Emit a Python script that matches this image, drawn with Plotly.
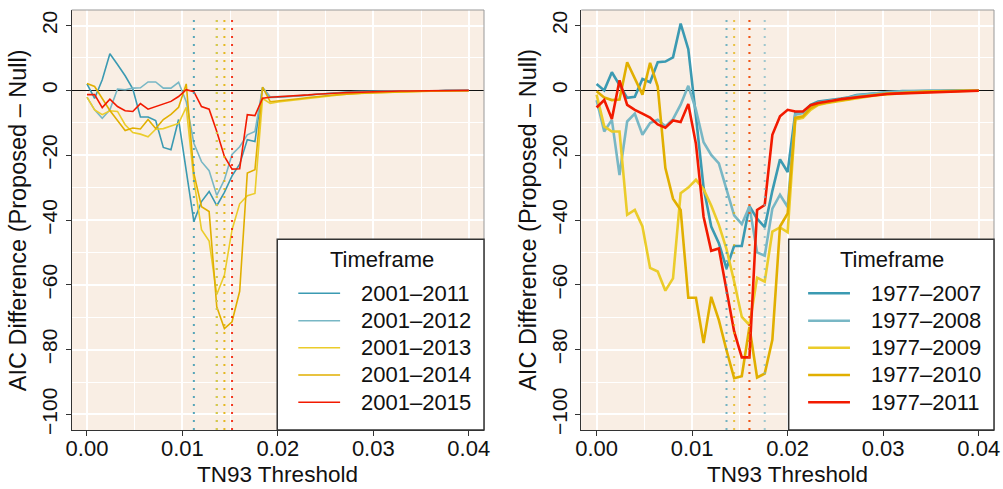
import numpy as np
import plotly.graph_objects as go

# TN93 distance thresholds evaluated (step 0.0008 from 0 to 0.04)
thresholds = np.round(np.arange(51) * 0.0008, 4)

palette = ["#3B9AB2", "#78B7C5", "#EBCC2A", "#E1AF00", "#F21A00"]

# ---- Panel A: timeframes starting 2001 ----
labels_a = ["2001–2011", "2001–2012", "2001–2013", "2001–2014", "2001–2015"]

aic_2001_2011 = [2.0, -2.5, 3.3, 11.3, 8.0, 4.5, 0.5, -8.2, -8.2, -9.3, -17.6, -18.3, -9.0, -24.5,
                 -40.5, -34.3, -31.2, -35.6, -31.5, -26.4, -22.8, -15.2, -15.8, 0.9, -2.2, -2.1,
                 -2.0, -1.9, -1.7, -1.5, -1.2, -1.0, -0.8, -0.6, -0.5, -0.4, -0.3, -0.3, -0.2,
                 -0.2, -0.2, -0.1, -0.1, -0.1, -0.1, -0.1, -0.1, 0.0, 0.0, 0.0, 0.0]
aic_2001_2012 = [-2.1, -6.0, -8.6, -6.0, 0.4, 0.2, 0.7, 0.8, 2.6, 2.6, 0.7, 0.7, 2.5, -3.5,
                 -16.3, -22.0, -24.8, -32.4, -27.6, -19.8, -17.4, -13.7, -12.7, 0.8, -2.0, -2.0,
                 -1.9, -1.8, -1.6, -1.4, -1.2, -1.0, -0.8, -0.7, -0.6, -0.5, -0.4, -0.3, -0.3,
                 -0.2, -0.2, -0.2, -0.1, -0.1, -0.1, -0.1, -0.1, -0.1, 0.0, 0.0, 0.0]
aic_2001_2013 = [-2.1, -6.0, -7.5, -6.3, -6.5, -10.6, -13.0, -13.5, -14.3, -12.0, -11.8, -11.0,
                 -10.2, -5.2, -27.6, -43.0, -46.5, -63.0, -57.0, -43.0, -35.0, -32.5, -31.8, -2.5,
                 -4.0, -3.6, -3.3, -3.0, -2.7, -2.4, -2.1, -1.8, -1.6, -1.4, -1.2, -1.0, -0.9,
                 -0.8, -0.7, -0.6, -0.5, -0.45, -0.4, -0.35, -0.3, -0.25, -0.2, -0.2, -0.15,
                 -0.1, -0.1]
aic_2001_2014 = [2.1, 1.2, -2.5, -6.2, -9.3, -12.4, -11.6, -11.9, -9.0, -11.8, -9.0, -7.4, -5.2,
                 2.0, -25.6, -35.9, -37.4, -66.8, -73.5, -71.4, -62.0, -25.5, -24.5, 1.0, -3.5,
                 -3.3, -3.0, -2.7, -2.5, -2.2, -1.9, -1.7, -1.5, -1.3, -1.1, -1.0, -0.9, -0.8,
                 -0.7, -0.6, -0.5, -0.4, -0.4, -0.3, -0.3, -0.2, -0.2, -0.2, -0.1, -0.1, -0.1]
aic_2001_2015 = [-1.3, -1.3, -5.3, -2.7, -5.0, -6.3, -6.5, -4.1, -5.8, -5.0, -4.2, -3.4, -1.9,
                 0.2, -0.4, -5.0, -5.8, -12.7, -20.4, -24.3, -24.2, -7.5, -7.8, -2.4, -2.1, -2.0,
                 -1.9, -1.8, -1.6, -1.4, -1.2, -1.0, -0.9, -0.8, -0.7, -0.6, -0.5, -0.4, -0.4,
                 -0.3, -0.3, -0.2, -0.2, -0.2, -0.1, -0.1, -0.1, -0.1, 0.0, 0.0, 0.0]
series_a = [aic_2001_2011, aic_2001_2012, aic_2001_2013, aic_2001_2014, aic_2001_2015]
best_a = [0.0112, 0.0136, 0.0136, 0.0144, 0.0152]

# ---- Panel B: timeframes starting 1977 ----
labels_b = ["1977–2007", "1977–2008", "1977–2009", "1977–2010", "1977–2011"]

aic_1977_2007 = [2.0, 0.0, 5.6, 1.6, -2.3, -2.0, 3.5, 2.5, 8.7, 8.9, 10.2, 20.6, 12.7, -8.0,
                 -30.0, -42.0, -47.2, -54.9, -48.0, -48.0, -35.7, -39.6, -42.2, -31.0, -21.3,
                 -25.2, -7.0, -6.8, -4.5, -3.4, -3.0, -2.8, -2.5, -2.1, -1.4, -1.2, -1.0, -0.6,
                 -0.4, -0.3, -0.2, -0.2, -0.1, -0.1, -0.1, -0.1, 0.0, 0.0, 0.0, 0.0, 0.0]
aic_1977_2008 = [-3.0, -12.7, -9.1, -26.1, -9.6, -7.2, -13.7, -10.1, -9.1, -11.1, -8.9, -4.4,
                 1.4, -6.0, -16.0, -19.9, -22.5, -30.7, -38.6, -41.3, -35.8, -50.0, -51.0, -36.5,
                 -32.2, -36.0, -7.5, -7.0, -5.0, -3.8, -3.3, -3.0, -2.7, -2.3, -1.6, -1.4, -1.1,
                 -0.8, -0.5, -0.4, -0.3, -0.2, -0.2, -0.1, -0.1, -0.1, -0.1, 0.0, 0.0, 0.0, 0.0]
aic_1977_2009 = [-1.3, -11.1, -12.7, -12.7, -38.4, -36.9, -42.0, -54.8, -55.9, -61.8, -58.0,
                 -31.7, -30.0, -27.6, -30.5, -35.5, -41.5, -49.0, -59.0, -69.9, -72.4, -57.8,
                 -59.0, -43.6, -42.3, -43.8, -9.0, -8.5, -6.0, -4.5, -4.0, -3.6, -3.2, -2.9,
                 -2.3, -2.0, -1.7, -1.4, -1.2, -1.0, -0.8, -0.7, -0.6, -0.5, -0.4, -0.3, -0.3,
                 -0.2, -0.2, -0.1, -0.1]
aic_1977_2010 = [-0.3, -2.2, -3.0, -2.8, 8.7, 3.8, -1.3, 8.5, 1.2, -24.0, -33.4, -36.9, -64.0,
                 -64.0, -78.0, -63.7, -70.9, -80.2, -88.8, -88.2, -73.0, -88.6, -87.4, -77.0,
                 -42.0, -38.0, -8.5, -8.0, -5.5, -4.3, -3.8, -3.4, -3.0, -2.7, -2.1, -1.8, -1.5,
                 -1.2, -1.0, -0.9, -0.7, -0.6, -0.5, -0.4, -0.3, -0.3, -0.2, -0.2, -0.1, -0.1,
                 -0.1]
aic_1977_2011 = [-5.3, -3.0, -8.8, 3.1, -4.5, -6.0, -7.2, -8.4, -10.5, -11.5, -9.3, -9.8, -4.2,
                 -16.5, -39.0, -49.5, -48.8, -61.7, -74.4, -82.4, -82.4, -36.9, -35.4, -13.7,
                 -8.0, -6.0, -6.5, -6.5, -4.6, -3.9, -3.4, -3.1, -2.7, -2.4, -2.1, -1.9, -1.6,
                 -1.2, -1.1, -1.0, -0.9, -0.8, -0.7, -0.6, -0.6, -0.5, -0.4, -0.3, -0.2, -0.1,
                 -0.1]
series_b = [aic_1977_2007, aic_1977_2008, aic_1977_2009, aic_1977_2010, aic_1977_2011]
best_b = [0.0136, 0.0176, 0.0160, 0.0144, 0.0160]

x_ticks = [0.0, 0.01, 0.02, 0.03, 0.04]
y_ticks = [-100, -80, -60, -40, -20, 0, 20]

FONT = "Liberation Sans, Arial, sans-serif"
BG = "#F9EEE4"
W, H = 1003, 489

panels = [
    dict(ax="x", ay="y", series=series_a, labels=labels_a, best=best_a, lw=1.6,
         dom=(71.7, 484.0), dot_op=0.85, leg_x0=0.4985),
    dict(ax="x2", ay="y2", series=series_b, labels=labels_b, best=best_b, lw=2.6,
         dom=(581.3, 994.0), dot_op=0.7, leg_x0=0.5025),
]
y_dom = (1 - 430 / H, 1 - 10 / H)

fig = go.Figure()
shapes, annotations = [], []
layout = dict(
    width=W, height=H, margin=dict(l=0, r=0, t=0, b=0, pad=0, autoexpand=False),
    paper_bgcolor="white", plot_bgcolor=BG,
    font=dict(family=FONT, size=22, color="#111"),
    showlegend=False,
)

for p in panels:
    for vals, col in zip(p["series"], palette):
        fig.add_trace(go.Scatter(x=thresholds, y=vals, mode="lines",
                                 line=dict(color=col, width=p["lw"]),
                                 xaxis=p["ax"], yaxis=p["ay"], hoverinfo="skip"))

    xa = "xaxis" if p["ax"] == "x" else "xaxis2"
    ya = "yaxis" if p["ay"] == "y" else "yaxis2"
    layout[xa] = dict(
        domain=[p["dom"][0] / W, p["dom"][1] / W], anchor=p["ay"], automargin=False,
        range=[-0.0016, 0.0416], tickvals=x_ticks, tickformat=".2f",
        ticks="outside", ticklen=5, tickwidth=1, tickcolor="#333",
        ticklabelstandoff=-6,
        showline=True, linecolor="#333", linewidth=1, mirror=False,
        showgrid=True, gridcolor="white", gridwidth=2, zeroline=False,
        minor=dict(dtick=0.005, tick0=0, showgrid=True, gridcolor="white", gridwidth=1),
        tickfont=dict(size=22, color="#111"),
    )
    layout[ya] = dict(
        domain=list(y_dom), anchor=p["ax"], automargin=False,
        range=[-104.8, 24.8], tickvals=y_ticks, tickangle=-90,
        ticks="outside", ticklen=5, tickwidth=1, tickcolor="#333",
        showline=True, linecolor="#333", linewidth=1,
        showgrid=True, gridcolor="white", gridwidth=2,
        minor=dict(dtick=10, tick0=0, showgrid=True, gridcolor="white", gridwidth=1),
        zeroline=True, zerolinecolor="#111", zerolinewidth=1.3,
        tickfont=dict(size=21, color="#111"),
    )

    xd, yd = p["ax"] + " domain", p["ay"] + " domain"
    # thin frame along the top and right of the panel
    shapes.append(dict(type="line", xref=xd, yref=yd, x0=0, x1=1, y0=1, y1=1,
                       line=dict(color="#999", width=1)))
    shapes.append(dict(type="line", xref=xd, yref=yd, x0=1, x1=1, y0=0, y1=1,
                       line=dict(color="#999", width=1)))
    # dotted markers at the threshold minimising AIC for each timeframe
    for t, col in zip(p["best"], palette):
        shapes.append(dict(type="line", xref=p["ax"], yref=yd, x0=t, x1=t,
                           y0=0, y1=0.985, opacity=p["dot_op"],
                           line=dict(color=col, width=2, dash="2px,6px")))
    # legend box
    shapes.append(dict(type="rect", xref=xd, yref=yd, x0=p["leg_x0"], x1=1, y0=0, y1=0.454,
                       fillcolor="white", line=dict(color="#333", width=1.5)))
    annotations.append(dict(text="Timeframe", xref=xd, yref=yd, x=0.752, y=0.406,
                            showarrow=False, xanchor="center", yanchor="middle",
                            font=dict(size=22, color="#111")))
    entry_y = [0.3255, 0.2602, 0.196, 0.131, 0.066]
    for lab, col, ey in zip(p["labels"], palette, entry_y):
        shapes.append(dict(type="line", xref=xd, yref=yd, x0=0.5496, x1=0.651,
                           y0=ey, y1=ey, line=dict(color=col, width=p["lw"])))
        annotations.append(dict(text=lab, xref=xd, yref=yd, x=0.6975, y=ey,
                                showarrow=False, xanchor="left", yanchor="middle",
                                font=dict(size=22, color="#111")))
    # axis titles
    cx = (p["dom"][0] + p["dom"][1]) / 2 / W
    annotations.append(dict(text="TN93 Threshold", xref="paper", yref="paper",
                            x=cx, y=1 - 474.3 / H, showarrow=False,
                            xanchor="center", yanchor="middle",
                            font=dict(size=22.5, color="#111")))
    annotations.append(dict(text="AIC Difference (Proposed – Null)", xref="paper",
                            yref="paper", x=(p["dom"][0] - 53.5) / W,
                            y=1 - 220 / H, textangle=-90, showarrow=False,
                            xanchor="center", yanchor="middle",
                            font=dict(size=23.5, color="#111")))

layout["shapes"] = shapes
layout["annotations"] = annotations
fig.update_layout(**layout)
fig.write_html("out.html")
